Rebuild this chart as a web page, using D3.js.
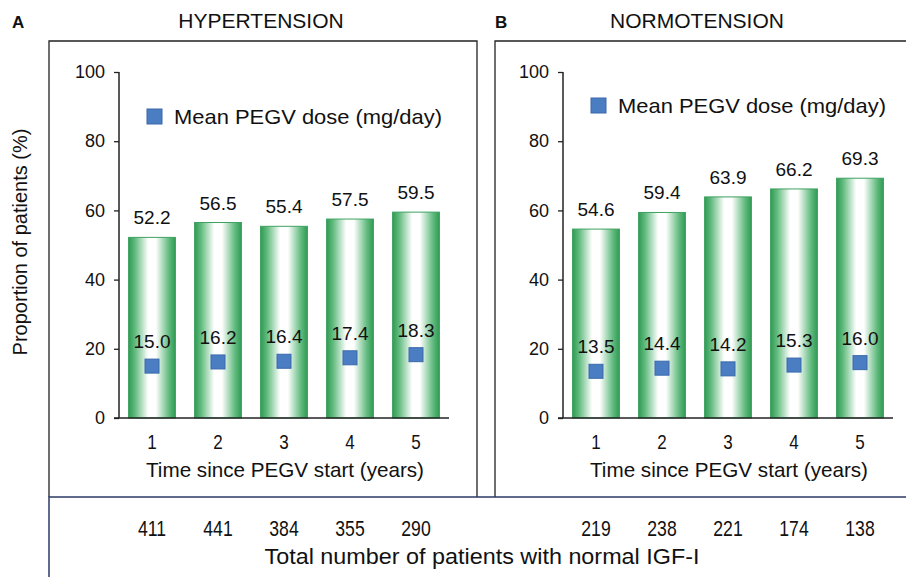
<!DOCTYPE html>
<html lang="en">
	<head>
		<meta charset="utf-8">
		<title>PEGV hypertension / normotension</title>
		<script src="https://d3js.org/d3.v7.min.js"></script>
		<style type="text/css">
			body { margin: 0; background: white; }
			text { font-family: "Liberation Sans", Arial, sans-serif; fill: #111; }
		</style>
	</head>
	<body>
		<svg id="chart" width="906" height="577"></svg>

		<script type="text/javascript">

			// data
			var years = ["1", "2", "3", "4", "5"];
			var yTicks = [0, 20, 40, 60, 80, 100];

			var hyperProp = [52.2, 56.5, 55.4, 57.5, 59.5];
			var hyperDose = [15.0, 16.2, 16.4, 17.4, 18.3];
			var hyperN = [411, 441, 384, 355, 290];

			var normoProp = [54.6, 59.4, 63.9, 66.2, 69.3];
			var normoDose = [13.5, 14.4, 14.2, 15.3, 16.0];
			var normoN = [219, 238, 221, 174, 138];

			var svg = d3.select("#chart");
			svg.append("rect").attr("width", 906).attr("height", 577).attr("fill", "white");

			// bar gradient: green edges, white middle
			var grad = svg.append("defs").append("linearGradient")
				.attr("id", "barGrad")
				.attr("x1", "0%").attr("x2", "100%").attr("y1", "0%").attr("y2", "0%");
			[[0, "#2f9a52"], [0.14, "#62bb7f"], [0.42, "#ffffff"], [0.58, "#ffffff"], [0.86, "#62bb7f"], [1, "#2f9a52"]]
				.forEach(function(s) {
					grad.append("stop").attr("offset", s[0]).attr("stop-color", s[1]);
				});

			var y = d3.scaleLinear().domain([0, 100]).range([418, 72]);

			// frames
			var frame = svg.append("g").attr("fill", "none").attr("stroke", "#222").attr("stroke-width", 1.3);
			frame.append("path").attr("d", "M49,497 V41 H477 V497");
			frame.append("path").attr("d", "M495,497 V41 H906");
			svg.append("path")
				.attr("d", "M49,577 V497 H906")
				.attr("fill", "none")
				.attr("stroke", "#2b3a67").attr("stroke-width", 1.5);

			// condensed text: squeeze horizontally around its anchor
			var squeeze = function(sel, k) {
				sel.attr("transform", function() {
					var t = d3.select(this);
					var x0 = +t.attr("x") || 0;
					return "translate(" + x0 + ",0) scale(" + k + ",1) translate(" + (-x0) + ",0)";
				});
			};

			var drawPanel = function(opt) {
				var x = d3.scaleBand().domain(years).range(opt.range).paddingInner(0.29).paddingOuter(0.145);
				var g = svg.append("g");

				// panel letter and title
				g.append("text").attr("x", opt.letterX).attr("y", 28)
					.attr("font-size", 17).attr("font-weight", "bold").text(opt.letter);
				g.append("text").attr("x", opt.titleX).attr("y", 28)
					.attr("text-anchor", "middle").attr("font-size", 21).text(opt.title);

				// bars
				g.selectAll("rect.bar")
					.data(opt.prop)
					.enter()
					.append("rect")
					.attr("class", "bar")
					.attr("x", function(d, i) { return x(years[i]); })
					.attr("width", x.bandwidth())
					.attr("y", function(d) { return y(d); })
					.attr("height", function(d) { return y(0) - y(d); })
					.attr("fill", "url(#barGrad)")
					.attr("stroke", "#3fa261")
					.attr("stroke-width", 1);

				g.selectAll("text.val")
					.data(opt.prop)
					.enter()
					.append("text")
					.attr("class", "val")
					.attr("x", function(d, i) { return x(years[i]) + x.bandwidth() / 2; })
					.attr("y", function(d) { return y(d) - 13; })
					.attr("text-anchor", "middle")
					.attr("font-size", 19)
					.text(function(d) { return d.toFixed(1); });

				// dose markers
				g.selectAll("rect.dose")
					.data(opt.dose)
					.enter()
					.append("rect")
					.attr("class", "dose")
					.attr("x", function(d, i) { return x(years[i]) + x.bandwidth() / 2 - 7; })
					.attr("y", function(d) { return y(d) - 7; })
					.attr("width", 14).attr("height", 14)
					.attr("fill", "#4a7dc2")
					.attr("stroke", "#3a69ab");

				g.selectAll("text.dose")
					.data(opt.dose)
					.enter()
					.append("text")
					.attr("class", "dose")
					.attr("x", function(d, i) { return x(years[i]) + x.bandwidth() / 2; })
					.attr("y", function(d) { return y(d) - 18; })
					.attr("text-anchor", "middle")
					.attr("font-size", 19)
					.text(function(d) { return d.toFixed(1); });

				// axes
				var yAxis = g.append("g")
					.attr("transform", "translate(" + opt.range[0] + ",0)")
					.call(d3.axisLeft(y).tickValues(yTicks).tickSize(5).tickPadding(9));
				yAxis.selectAll("text").attr("font-size", 18).attr("font-family", "Liberation Sans, Arial").attr("fill", "#111");
				yAxis.select(".domain").attr("d", "M0," + y(100) + "V" + y(0)).attr("stroke", "#222").attr("stroke-width", 1.5);
				yAxis.selectAll("line").attr("stroke", "#222").attr("stroke-width", 1.3);

				var xAxis = g.append("g")
					.attr("transform", "translate(0," + y(0) + ")")
					.call(d3.axisBottom(x).tickSize(0).tickPadding(17));
				xAxis.select(".domain").attr("d", "M" + (opt.range[0] - 5) + ",0H" + opt.range[1]).attr("stroke", "#222").attr("stroke-width", 1.5);
				xAxis.selectAll("text").attr("font-size", 20).attr("fill", "#111")
					.attr("transform", "scale(0.85,1)")
					.attr("x", 0);

				g.append("text")
					.attr("x", (opt.range[0] + opt.range[1]) / 2 + 1).attr("y", 477)
					.attr("text-anchor", "middle").attr("font-size", 21)
					.attr("textLength", 278).attr("lengthAdjust", "spacingAndGlyphs")
					.text("Time since PEGV start (years)");

				// legend
				g.append("rect").attr("x", opt.legX).attr("y", opt.legY - 8)
					.attr("width", 15).attr("height", 15)
					.attr("fill", "#4a7dc2").attr("stroke", "#3a69ab");
				g.append("text").attr("x", opt.legX + 27).attr("y", opt.legY + 7)
					.attr("font-size", 21).attr("textLength", 268).attr("lengthAdjust", "spacingAndGlyphs")
					.text("Mean PEGV dose (mg/day)");

				// patient counts
				g.selectAll("text.n")
					.data(opt.n)
					.enter()
					.append("text")
					.attr("class", "n")
					.attr("x", function(d, i) { return x(years[i]) + x.bandwidth() / 2; })
					.attr("y", 536)
					.attr("text-anchor", "middle")
					.attr("font-size", 22)
					.text(function(d) { return d; })
					.call(squeeze, 0.8);
			};

			drawPanel({ letter: "A", letterX: 12, title: "HYPERTENSION", titleX: 261,
				range: [119, 449], prop: hyperProp, dose: hyperDose, n: hyperN, legX: 147, legY: 117 });
			drawPanel({ letter: "B", letterX: 495, title: "NORMOTENSION", titleX: 697,
				range: [563, 893], prop: normoProp, dose: normoDose, n: normoN, legX: 591, legY: 106 });

			svg.append("text")
				.attr("transform", "translate(27,242) rotate(-90)")
				.attr("text-anchor", "middle").attr("font-size", 20)
				.text("Proportion of patients (%)");

			svg.append("text")
				.attr("x", 482).attr("y", 564)
				.attr("text-anchor", "middle").attr("font-size", 22)
				.attr("font-family", "Lato, 'Open Sans', sans-serif")
				.attr("textLength", 435).attr("lengthAdjust", "spacingAndGlyphs")
				.text("Total number of patients with normal IGF-I");

		</script>
	</body>
</html>
